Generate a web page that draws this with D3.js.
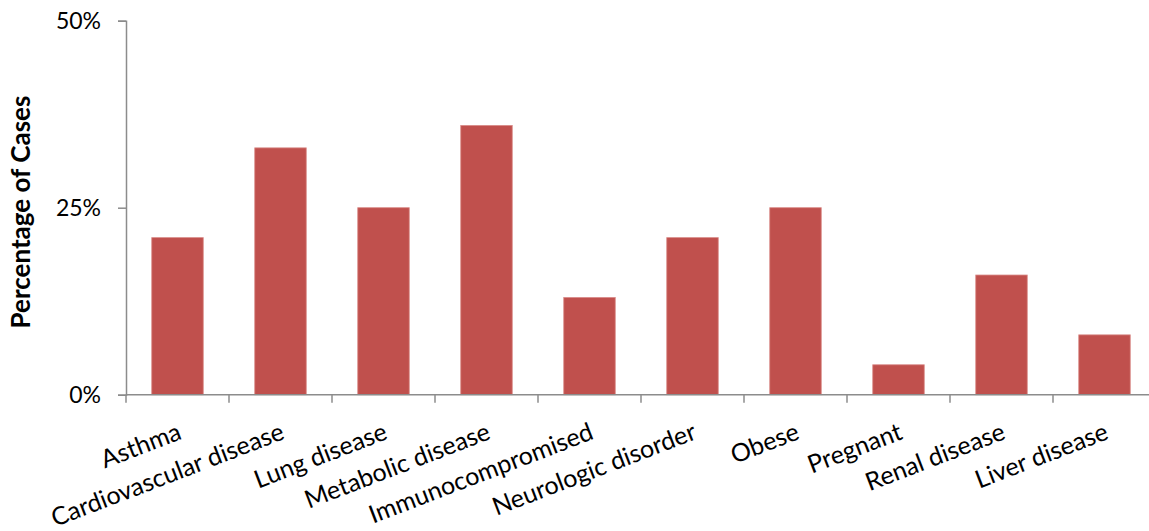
<!DOCTYPE html>
<html>
<head>
<meta charset="utf-8">
<script src="https://cdn.jsdelivr.net/npm/d3@7"></script>
<style>
  html, body { margin: 0; padding: 0; background: #fff; }
  svg { display: block; font-family: Lato, "Open Sans", sans-serif; }
</style>
</head>
<body>
<svg id="chart" width="1149" height="531"></svg>
<script>
// Share of cases with each underlying condition (%)
const categories = ["Asthma", "Cardiovascular disease", "Lung disease", "Metabolic disease",
  "Immunocompromised", "Neurologic disorder", "Obese", "Pregnant", "Renal disease", "Liver disease"];
const percentages = [21, 33, 25, 36, 13, 21, 25, 4, 16, 8];
const yTicks = [0, 25, 50];
const yTitle = "Percentage of Cases";

const svg = d3.select("#chart");
const axisColor = "#8c8c8c";
const barColor = "#c0504d";

const x0 = 126, x1 = 1156, yTop = 20.7, yZero = 394.7;

const x = d3.scaleBand().domain(categories).range([x0, x1])
  .paddingInner(0.5).paddingOuter(0.25);
const y = d3.scaleLinear().domain([0, 50]).range([yZero, yTop]);

// Bars
svg.append("g").selectAll("rect")
  .data(categories.map((c, i) => ({ c, v: percentages[i] })))
  .join("rect")
  .attr("x", d => x(d.c))
  .attr("width", x.bandwidth())
  .attr("y", d => y(d.v))
  .attr("height", d => y(0) - y(d.v))
  .attr("fill", barColor)
  .attr("stroke", "#d98b89")
  .attr("stroke-width", 0.8);

// Y axis
const yAxis = svg.append("g")
  .attr("transform", `translate(${x0},0)`)
  .call(d3.axisLeft(y).tickValues(yTicks).tickFormat(d => d + "%").tickSize(8).tickPadding(17));
yAxis.select(".domain").attr("stroke", axisColor).attr("stroke-width", 1.5);
yAxis.selectAll(".tick line").attr("stroke", axisColor).attr("stroke-width", 1.5);
yAxis.selectAll(".tick text").attr("font-size", 23).attr("fill", "#000")
  .attr("font-family", "Lato, sans-serif");

// X axis: baseline with ticks at category boundaries
const xAxis = svg.append("g");
xAxis.append("line")
  .attr("x1", x0).attr("x2", x1)
  .attr("y1", y(0)).attr("y2", y(0))
  .attr("stroke", axisColor).attr("stroke-width", 1.5);
const bounds = categories.map(c => x(c) - x.step() * x.paddingInner() / 2);
xAxis.selectAll("line.tick")
  .data(bounds)
  .join("line")
  .attr("class", "tick")
  .attr("x1", d => d).attr("x2", d => d)
  .attr("y1", y(0)).attr("y2", y(0) + 8)
  .attr("stroke", axisColor).attr("stroke-width", 1.5);

// Rotated category labels, ending under each bar's centre
xAxis.selectAll("text")
  .data(categories)
  .join("text")
  .attr("transform", d => `translate(${x(d) + x.bandwidth() / 2 - 1},${y(0) + 27}) rotate(-21)`)
  .attr("text-anchor", "end")
  .attr("dy", "0.72em")
  .attr("font-size", 25)
  .attr("fill", "#000")
  .text(d => d);

// Y axis title
svg.append("text")
  .attr("transform", `translate(30,212) rotate(-90)`)
  .attr("text-anchor", "middle")
  .attr("font-size", 26)
  .attr("font-weight", "bold")
  .attr("fill", "#000")
  .text(yTitle);
</script>
</body>
</html>
